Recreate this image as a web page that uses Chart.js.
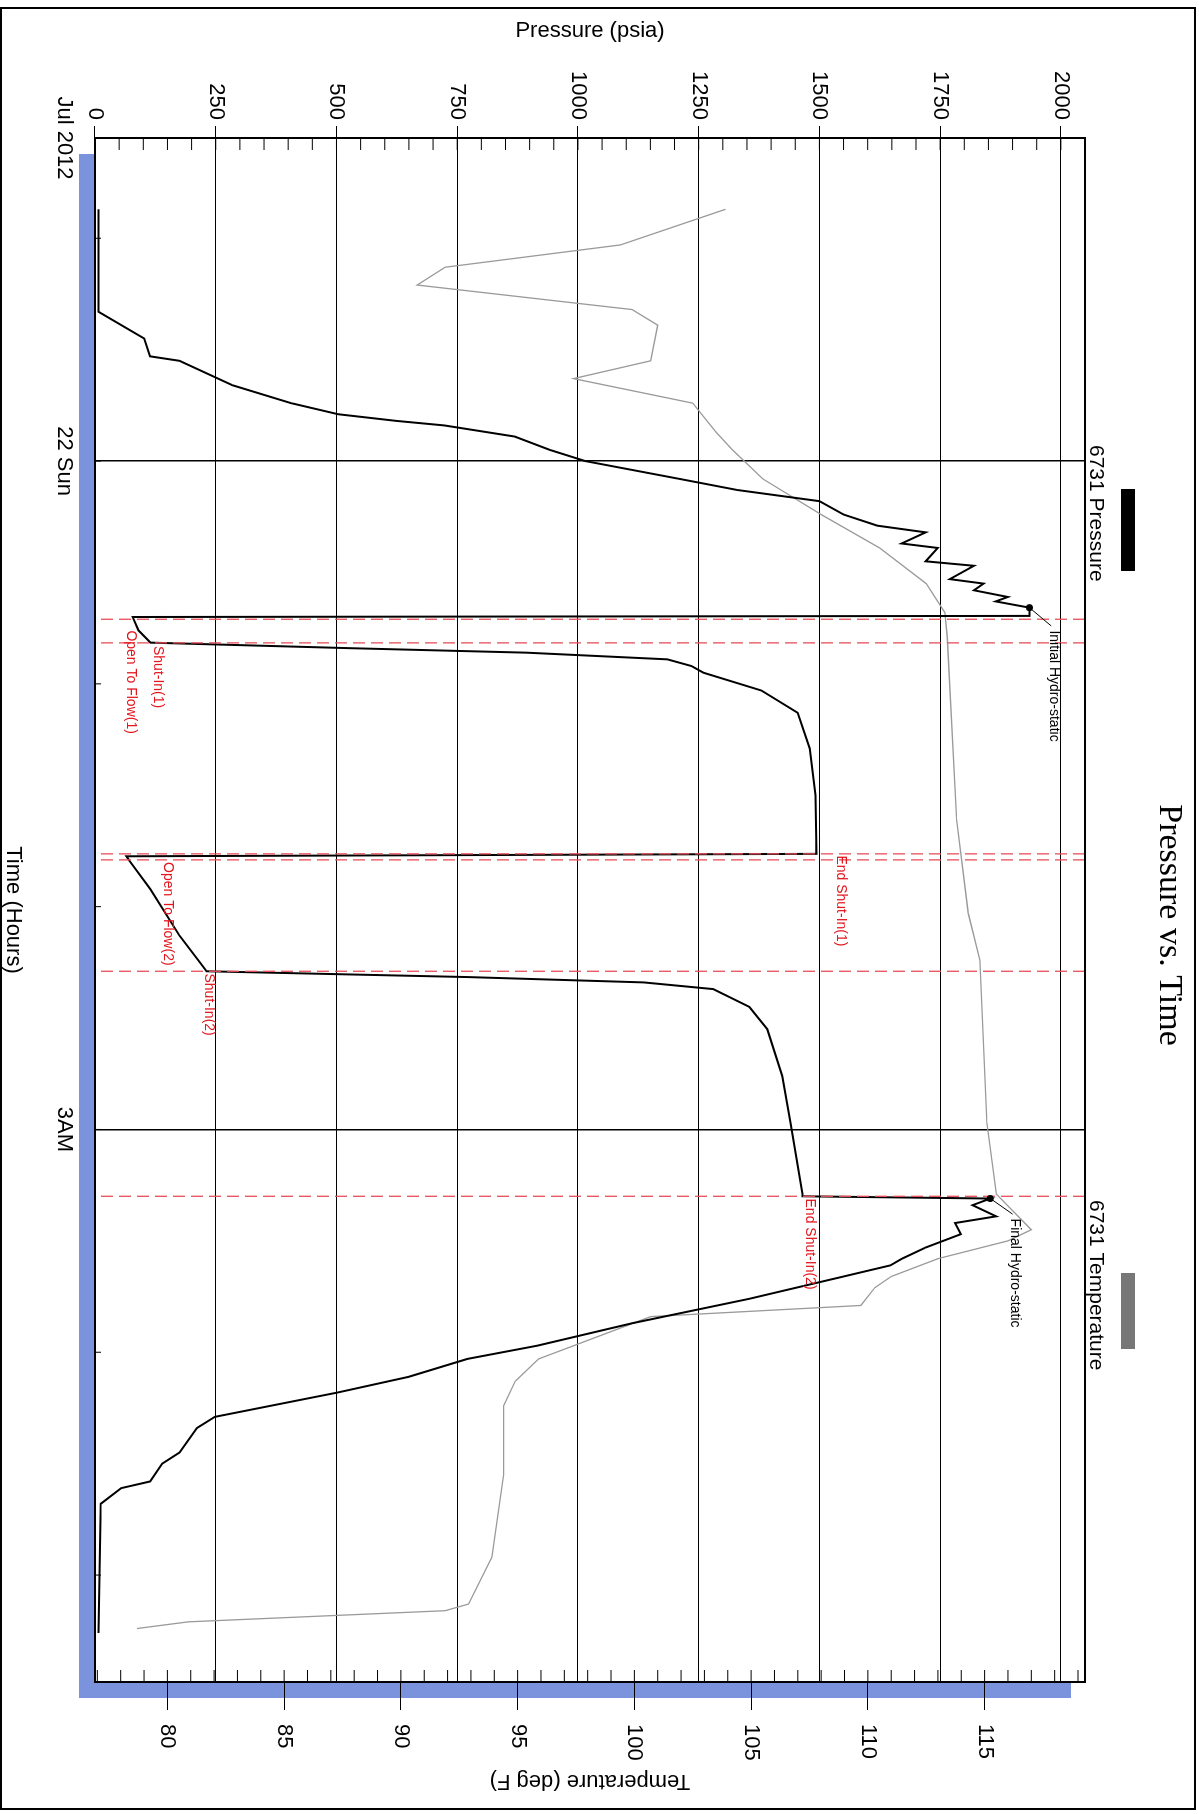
<!DOCTYPE html>
<html>
<head>
<meta charset="utf-8">
<script src="https://cdn.jsdelivr.net/npm/chart.js@4/dist/chart.umd.min.js"></script>
<style>
  html, body { margin: 0; padding: 0; background: #fff; }
  #page { position: relative; width: 1199px; height: 1814px; overflow: hidden; }
  #frame { position: absolute; left: 0; top: 7px; width: 1196px; height: 1803px; border: 2px solid #000; box-sizing: border-box; }
  #rot { position: absolute; left: 0; top: 0; width: 1814px; height: 1199px;
         transform-origin: 0 0; transform: translate(1199px, 0) rotate(90deg); }
</style>
</head>
<body>
<div id="page">
  <div id="frame"></div>
  <div id="rot"><canvas id="c" width="1814" height="1199"></canvas></div>
</div>
<script>
// temps en heures depuis minuit (22 Sun)
var pressTime = [-1.13, -0.67, -0.58, -0.55, -0.47, -0.45, -0.34, -0.26, -0.21, -0.18, -0.16, -0.11, -0.05, 0,
  0.08, 0.13, 0.18, 0.24, 0.29, 0.32, 0.37, 0.39, 0.45, 0.47, 0.53, 0.55, 0.58, 0.61, 0.63, 0.658, 0.695,
  0.70, 0.76, 0.815,
  0.84, 0.86, 0.89, 0.92, 0.95, 1.03, 1.13, 1.29, 1.50, 1.763,
  1.774, 1.79, 1.92, 2.13, 2.27, 2.29,
  2.316, 2.34, 2.37, 2.45, 2.55, 2.76, 2.97, 3.29, 3.30,
  3.31, 3.34, 3.39, 3.42, 3.47, 3.53, 3.58, 3.61, 3.66, 3.76, 3.87, 3.97, 4.03, 4.11, 4.18, 4.29, 4.34,
  4.45, 4.50, 4.58, 4.61, 4.68, 5.26];
var pressValues = [7, 7, 78, 102, 114, 175, 285, 406, 504, 625, 723, 869, 942, 1015,
  1210, 1330, 1500, 1550, 1620, 1720, 1670, 1745, 1720, 1820, 1770, 1840, 1820, 1890, 1865, 1935, 1935,
  78, 90, 115,
  530, 893, 1185, 1235, 1260, 1380, 1455, 1480, 1492, 1494,
  65, 70, 114, 175, 224, 231,
  771, 1136, 1280, 1355, 1392, 1423, 1440, 1465, 1465,
  1854, 1817, 1866, 1781, 1793, 1720, 1671, 1647, 1550, 1355, 1112, 917, 771, 650, 504, 248, 211,
  175, 139, 114, 54, 12, 7];

var tempTime = [-1.13, -0.97, -0.87, -0.79, -0.68, -0.61, -0.45, -0.37, -0.26, -0.13, -0.05, 0.08, 0.24, 0.39,
  0.55, 0.68, 0.79, 1.61, 2.03, 2.24, 2.97, 3.29, 3.45, 3.50, 3.58, 3.66, 3.71, 3.79, 3.84, 4.03, 4.13,
  4.24, 4.55, 4.92, 5.13, 5.16, 5.21, 5.24];
var tempValues = [103.9, 99.4, 91.9, 90.7, 99.9, 101.0, 100.7, 97.4, 102.5, 103.5, 104.2, 105.5, 108.0, 110.5,
  112.5, 113.3, 113.4, 113.8, 114.3, 114.8, 115.1, 115.5, 117.0, 116.0, 113.0, 111.0, 110.3, 109.7, 100.7, 95.9, 94.9,
  94.4, 94.4, 93.9, 92.9, 91.9, 80.9, 78.7];

// repères d'événements
var eventTimes = [0.71, 0.816, 1.763, 1.79, 2.29, 3.30];
var eventLabels = ['Open To Flow(1)', 'Shut-In(1)', 'End Shut-In(1)', 'Open To Flow(2)', 'Shut-In(2)', 'End Shut-In(2)'];
var eventLabelTime = [0.76, 0.83, 1.77, 1.80, 2.30, 3.31];
var eventLabelPress = [75, 130, 1545, 150, 235, 1480];

var timeTicks = [-1.45, 0, 3];
var timeTickLabels = ['Jul 2012', '22 Sun', '3AM'];

function toPts(xs, ys) {
    var pts = [];
    for (var i = 0; i < xs.length; i++) pts.push({ x: xs[i], y: ys[i] });
    return pts;
}

var decor = {
    id: 'decor',
    beforeDraw: function (chart) {
        var a = chart.chartArea, ctx = chart.ctx;
        ctx.save();
        ctx.fillStyle = '#7b93dc';
        ctx.fillRect(a.left + 16, a.top + 14, a.right - a.left, a.bottom - a.top + 2);
        ctx.fillStyle = '#fff';
        ctx.fillRect(a.left, a.top, a.right - a.left, a.bottom - a.top);
        ctx.restore();
    },
    afterDatasetsDraw: function (chart) {
        var a = chart.chartArea, ctx = chart.ctx;
        var sx = chart.scales.x, sp = chart.scales.y, st = chart.scales.yT;
        ctx.save();
        // lignes d'événements en tirets rouges
        ctx.strokeStyle = '#e8505a';
        ctx.lineWidth = 1.3;
        ctx.setLineDash([12, 6]);
        eventTimes.forEach(function (t) {
            var px = sx.getPixelForValue(t);
            ctx.beginPath(); ctx.moveTo(px, a.top); ctx.lineTo(px, a.bottom); ctx.stroke();
        });
        ctx.setLineDash([]);
        // bordure du graphique
        ctx.strokeStyle = '#000';
        ctx.lineWidth = 2;
        ctx.strokeRect(a.left, a.top, a.right - a.left, a.bottom - a.top);
        ctx.lineWidth = 1;
        // petites graduations
        for (var p = 0; p <= 2050; p += 50) {
            var py = sp.getPixelForValue(p);
            ctx.beginPath(); ctx.moveTo(a.left, py); ctx.lineTo(a.left + 12, py); ctx.stroke();
        }
        for (var t = 77; t <= 119; t += 1) {
            var ty = st.getPixelForValue(t);
            ctx.beginPath(); ctx.moveTo(a.right, ty); ctx.lineTo(a.right - 12, ty); ctx.stroke();
        }
        for (var h = -1; h <= 5; h += 1) {
            var hx = sx.getPixelForValue(h);
            ctx.beginPath(); ctx.moveTo(hx, a.bottom); ctx.lineTo(hx, a.bottom - 6); ctx.stroke();
        }
        // étiquettes des événements
        ctx.font = '14px Arial, "Liberation Sans", sans-serif';
        ctx.textBaseline = 'middle';
        ctx.fillStyle = '#e3161e';
        eventLabels.forEach(function (lab, i) {
            ctx.fillText(lab, sx.getPixelForValue(eventLabelTime[i]), sp.getPixelForValue(eventLabelPress[i]));
        });
        // hydrostatiques
        ctx.fillStyle = '#000';
        ctx.strokeStyle = '#000';
        var hx1 = sx.getPixelForValue(0.658), hy1 = sp.getPixelForValue(1935);
        var hx2 = sx.getPixelForValue(3.31), hy2 = sp.getPixelForValue(1854);
        [[hx1, hy1], [hx2, hy2]].forEach(function (q) {
            ctx.beginPath(); ctx.arc(q[0], q[1], 3.5, 0, Math.PI * 2); ctx.fill();
        });
        ctx.beginPath(); ctx.moveTo(hx1, hy1); ctx.lineTo(sx.getPixelForValue(0.74), sp.getPixelForValue(1980)); ctx.stroke();
        ctx.beginPath(); ctx.moveTo(hx2, hy2); ctx.lineTo(sx.getPixelForValue(3.38), sp.getPixelForValue(1900)); ctx.stroke();
        ctx.fillText('Initial Hydro-static', sx.getPixelForValue(0.76), sp.getPixelForValue(1985));
        ctx.fillText('Final Hydro-static', sx.getPixelForValue(3.40), sp.getPixelForValue(1905));
        ctx.restore();
    },
    afterDraw: function (chart) {
        var ctx = chart.ctx;
        ctx.save();
        ctx.fillStyle = '#000';
        ctx.textBaseline = 'middle';
        ctx.textAlign = 'center';
        ctx.font = '34px "Times New Roman", "Liberation Serif", serif';
        ctx.fillText('Pressure vs. Time', 925, 30);
        // légende
        ctx.font = '21px Arial, "Liberation Sans", sans-serif';
        ctx.textAlign = 'left';
        ctx.fillText('6731 Pressure', 445, 103);
        ctx.fillText('6731 Temperature', 1200, 103);
        ctx.fillStyle = '#000';
        ctx.fillRect(489, 64, 82, 14);
        ctx.fillStyle = '#777';
        ctx.fillRect(1273, 64, 76, 14);
        ctx.restore();
    }
};

var tickFont = { family: 'Arial, "Liberation Sans", sans-serif', size: 22 };

new Chart(document.getElementById('c').getContext('2d'), {
    type: 'line',
    data: {
        datasets: [{
            label: '6731 Pressure',
            data: toPts(pressTime, pressValues),
            yAxisID: 'y',
            borderColor: '#000',
            borderWidth: 2,
            pointRadius: 0,
            tension: 0
        }, {
            label: '6731 Temperature',
            data: toPts(tempTime, tempValues),
            yAxisID: 'yT',
            borderColor: '#9a9a9a',
            borderWidth: 1.3,
            pointRadius: 0,
            tension: 0
        }]
    },
    options: {
        responsive: false,
        animation: false,
        devicePixelRatio: 1,
        layout: { padding: { top: 114, right: 20, left: 18, bottom: 0 } },
        plugins: { legend: { display: false }, tooltip: { enabled: false } },
        scales: {
            x: {
                type: 'linear',
                min: -1.45, max: 5.48,
                afterBuildTicks: function (s) { s.ticks = timeTicks.map(function (v) { return { value: v }; }); },
                afterFit: function (s) { s.height = 95; },
                ticks: {
                    color: '#000', font: tickFont, padding: 18, maxRotation: 0,
                    callback: function (v) { return timeTickLabels[timeTicks.indexOf(v)]; }
                },
                grid: { color: '#000', lineWidth: function (c) { return c.tick && c.tick.value > -1 ? 1.5 : 0; }, drawTicks: false },
                border: { display: false },
                title: { display: true, text: 'Time (Hours)', color: '#000', font: tickFont, padding: 0 }
            },
            y: {
                type: 'linear', position: 'left',
                min: 0, max: 2050,
                afterBuildTicks: function (s) {
                    var t = [];
                    for (var v = 0; v <= 2000; v += 250) t.push({ value: v });
                    s.ticks = t;
                },
                afterFit: function (s) { s.width = 120; },
                ticks: { color: '#000', font: tickFont, padding: 6, callback: function (v) { return String(v); } },
                grid: { color: '#000', lineWidth: 1, tickLength: 12 },
                border: { display: false },
                title: { display: true, text: 'Pressure (psia)', color: '#000', font: tickFont, padding: 0 }
            },
            yT: {
                type: 'linear', position: 'right',
                min: 76.9, max: 119.3,
                afterBuildTicks: function (s) {
                    var t = [];
                    for (var v = 80; v <= 115; v += 5) t.push({ value: v });
                    s.ticks = t;
                },
                afterFit: function (s) { s.width = 112; },
                ticks: { color: '#000', font: tickFont, padding: 14 },
                grid: { drawOnChartArea: false, color: '#000', tickLength: 28 },
                border: { display: false },
                title: { display: true, text: 'Temperature (deg F)', color: '#000', font: tickFont, padding: 0 }
            }
        }
    },
    plugins: [decor]
});
</script>
</body>
</html>
